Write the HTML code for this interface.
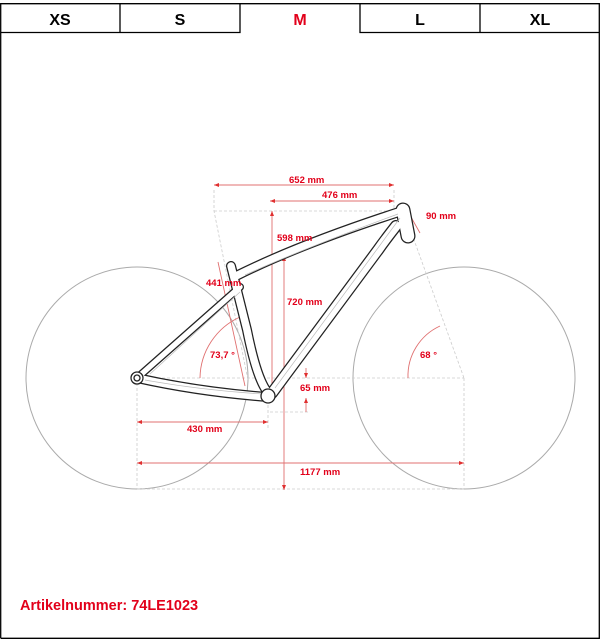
<!DOCTYPE html>
<html><head><style>
body{margin:0;width:600px;height:639px;background:#fff;overflow:hidden;font-family:"Liberation Sans",sans-serif}
</style></head><body>
<svg width="600" height="639" viewBox="0 0 600 639" xmlns="http://www.w3.org/2000/svg" font-family="Liberation Sans, sans-serif">
<g stroke="#000" stroke-width="1.3" fill="none">
<path d="M0.7,638.3 V3.7 H599.3 V638.3 H0.7"/>
<path d="M0.7,32.5 H240 V3.7 M360,3.7 V32.5 H599.3 M120,3.7 V32.5 M480,3.7 V32.5"/>
</g>
<g font-size="16" font-weight="bold" text-anchor="middle">
<text x="60" y="25">XS</text><text x="180" y="25">S</text>
<text x="300" y="25" fill="#e2001a">M</text><text x="420" y="25">L</text><text x="540" y="25">XL</text>
</g>
<g stroke="#aaa" fill="none" stroke-width="1">
<circle cx="137" cy="378" r="111"/><circle cx="464" cy="378" r="111"/>
</g>
<g stroke="#ccc" stroke-dasharray="3,2" fill="none" stroke-width="0.8">
<path d="M214,211 H405 M137,378 H464 M137,489 H464 M137,378 V489 M464,378 V489 M268,400 V428 M270,412 H310 M214,190 V211 L248,380 M394,190 V211 M405,215 L464,378"/>
</g>
<g stroke="#e07070" stroke-width="0.9" fill="none">
<path d="M214,185 H394 M270,201 H394 M272,211 V400 M284,256 V490 M306,368 V378 M306,398 V412 M137,422 H268 M137,463 H464 M407,210 L420,233 M218,262 L245,386"/>
<path d="M200,378 A68,68 0 0 1 240,317"/>
<path d="M408,378 A55,55 0 0 1 440,326"/>
</g>
<g fill="#e03030">
<path d="M214,185 l5,-2 v4z M394,185 l-5,-2 v4z M270,201 l5,-2 v4z M394,201 l-5,-2 v4z M272,211 l-2,5 h4z M284,256 l-2,5 h4z M284,490 l-2,-5 h4z M306,378 l-2,-5 h4z M306,398 l-2,5 h4z M137,422 l5,-2 v4z M268,422 l-5,-2 v4z M137,463 l5,-2 v4z M464,463 l-5,-2 v4z"/>
</g>
<g fill="none" stroke-linecap="round" stroke-linejoin="round">
<g stroke="#222">
<path d="M236,276 Q300,244 402,211" stroke-width="10"/>
<path d="M403,210 L408,236" stroke-width="15"/>
<path d="M396,226 Q385,240 378,250 L272,393" stroke-width="12"/>
<path d="M231,266 L247,330 Q256,375 266,390" stroke-width="10"/>
<path d="M137,378 L240,287" stroke-width="8"/>
<path d="M137,378 Q200,392 268,397" stroke-width="10"/>
</g>
<g stroke="#fff">
<path d="M236,276 Q300,244 402,211" stroke-width="7.5"/>
<path d="M403,210 L408,236" stroke-width="12.5"/>
<path d="M396,226 Q385,240 378,250 L272,393" stroke-width="9.5"/>
<path d="M231,266 L247,330 Q256,375 266,390" stroke-width="7.5"/>
<path d="M137,378 L240,287" stroke-width="5.5"/>
<path d="M137,378 Q200,392 268,397" stroke-width="7.5"/>
</g>
</g>
<g stroke="#bbb" stroke-width="0.7" fill="none">
<path d="M150,374 L240,292 M245,275 Q300,250 398,214 M275,388 L400,218 M145,380 Q200,390 262,394"/>
</g>
<g stroke="#222" stroke-width="1.3" fill="#fff">
<circle cx="137" cy="378" r="6"/><circle cx="137" cy="378" r="3"/>
<circle cx="268" cy="396" r="7"/>
</g>
<g fill="#e2001a" font-size="9.5" font-weight="bold">
<text x="289" y="183">652 mm</text>
<text x="322" y="198">476 mm</text>
<text x="426" y="219">90 mm</text>
<text x="277" y="241">598 mm</text>
<text x="206" y="286">441 mm</text>
<text x="287" y="305">720 mm</text>
<text x="210" y="358">73,7 °</text>
<text x="420" y="358">68 °</text>
<text x="300" y="391">65 mm</text>
<text x="187" y="432">430 mm</text>
<text x="300" y="475">1177 mm</text>
<text x="20" y="610" font-size="14.5">Artikelnummer: 74LE1023</text>
</g>
</svg>
</body></html>
